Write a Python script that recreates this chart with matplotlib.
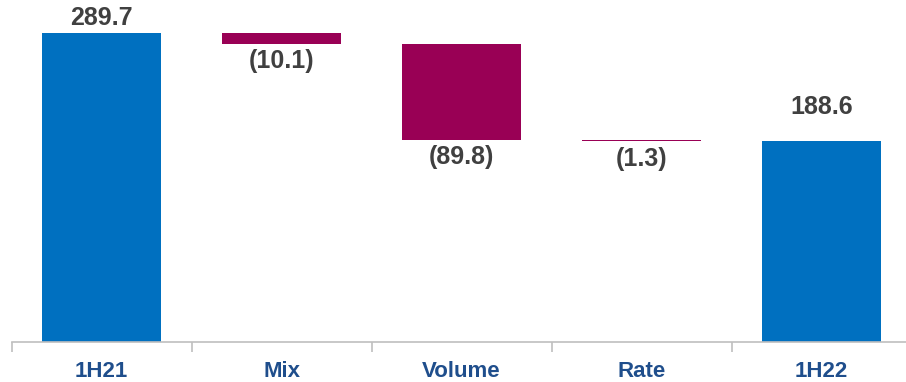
import matplotlib.pyplot as plt
import numpy as np

plt.rcParams["font.family"] = ["Liberation Sans", "DejaVu Sans"]

categories = ["1H21", "Mix", "Volume", "Rate", "1H22"]
start_value = 289.7
changes = [-10.1, -89.8, -1.3]
end_value = 188.6

BLUE = "#0070C0"
PLUM = "#990055"

# running total gives the floating bars between the two totals
heights = [start_value] + [abs(c) for c in changes] + [end_value]
bottoms = [0.0]
level = start_value
for c in changes:
    level += c
    bottoms.append(level)
bottoms.append(0.0)
colors = [BLUE] + [PLUM] * len(changes) + [BLUE]

fig = plt.figure(figsize=(9.06, 3.82), dpi=100)
ax = fig.add_axes([0.0127, 0.1047, 0.9934, 0.8935])

x = np.arange(len(categories))
ax.bar(x, heights, bottom=bottoms, width=0.66, color=colors, linewidth=0)

# value labels: totals above, changes in brackets below
ax.annotate(f"{start_value:.1f}", (x[0], start_value), xytext=(0, 2),
            textcoords="offset points", ha="center", va="bottom",
            fontsize=18, fontweight="bold", color="#404040")
ax.annotate(f"{end_value:.1f}", (x[-1], end_value), xytext=(0, 16),
            textcoords="offset points", ha="center", va="bottom",
            fontsize=18, fontweight="bold", color="#404040")
for i, c in enumerate(changes, start=1):
    ax.annotate(f"({abs(c):.1f})", (x[i], bottoms[i]), xytext=(0, -4),
                textcoords="offset points", ha="center", va="top",
                fontsize=18, fontweight="bold", color="#404040")

ax.set_xlim(-0.5, len(categories) - 0.5)
ax.set_ylim(0, 320)
ax.set_yticks([])
for side in ["left", "right", "top"]:
    ax.spines[side].set_visible(False)
ax.spines["bottom"].set_color("#BFBFBF")
ax.spines["bottom"].set_linewidth(1.2)

ax.set_xticks(x)
ax.set_xticklabels(categories, fontsize=16, fontweight="bold", color="#1F4E8C")
ax.tick_params(axis="x", which="major", length=0, pad=14)
ax.set_xticks(np.arange(len(categories) + 1) - 0.5, minor=True)
ax.tick_params(axis="x", which="minor", length=7, color="#BFBFBF", width=1.2)

fig.savefig("out.png", dpi=100)
